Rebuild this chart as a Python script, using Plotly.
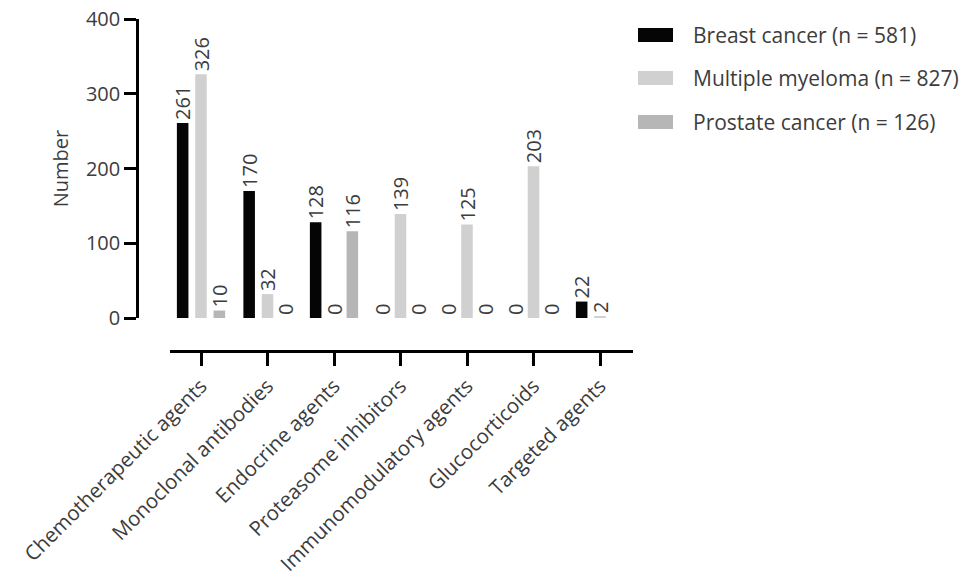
import plotly.graph_objects as go

categories = ["Chemotherapeutic agents", "Monoclonal antibodies", "Endocrine agents",
              "Proteasome inhibitors", "Immunomodulatory agents", "Glucocorticoids", "Targeted agents"]
series_names = ["Breast cancer (n = 581)", "Multiple myeloma (n = 827)", "Prostate cancer (n = 126)"]
breast = [261, 170, 128, 0, 0, 0, 22]
myeloma = [326, 32, 0, 139, 125, 203, 2]
prostate = [10, 0, 116, 0, 0, 0, None]
colors = ["#050505", "#d0d0d0", "#b6b6b6"]
y_ticks = [0, 100, 200, 300, 400]

OFF = 8  # default page body margin
W, H = 970 - 2 * OFF, 584 - 2 * OFF   # fit inside the window without scrollbars
# reference pixel positions (window coordinates)
L, R, T, B = 137, 633, 19, 351   # paper area (y axis line left, x axis line bottom)
X0 = 170                          # x axis line start
Y0 = 318                          # y = 0 position
FONT = "Open Sans"
TXT = "#3c3c3c"

def px_x(x):
    return (x - L) / (R - L)

def px_y(y):
    return (B - y) / (B - T)

fig = go.Figure()
for name, vals, col in zip(series_names, [breast, myeloma, prostate], colors):
    fig.add_trace(go.Bar(
        x=categories, y=vals, name=name, marker_color=col,
        marker_line_width=0,
        text=["" if v is None else str(v) for v in vals], textposition="outside", textangle=-90,
        constraintext="none", cliponaxis=False,
        textfont=dict(family=FONT, size=20, color=TXT),
        showlegend=False))

fig.update_layout(
    width=W, height=H,
    margin=dict(l=L - OFF, r=W - (R - OFF), t=T - OFF, b=H - (B - OFF), pad=0, autoexpand=False),
    paper_bgcolor="white", plot_bgcolor="white",
    barmode="group", bargap=0.173, bargroupgap=0.37,
    font=dict(family=FONT, color=TXT),
    xaxis=dict(domain=[px_x(X0), 1], range=[-(201 - X0) / 66.5, (R - 201) / 66.5],
               anchor="free", position=0,
               showline=True, linecolor="black", linewidth=3,
               ticks="outside", ticklen=13, tickwidth=2.5, tickcolor="black",
               tickangle=-45, tickfont=dict(family=FONT, size=20.5, color=TXT),
               showgrid=False, zeroline=False, automargin=False),
    yaxis=dict(domain=[px_y(Y0), 1], range=[0, 400.01], anchor="free", position=0,
               tickvals=y_ticks, showline=True, linecolor="black", linewidth=2.5,
               ticks="outside", ticklen=12, tickwidth=2.5, tickcolor="black",
               ticklabeloverflow="allow",
               tickfont=dict(family=FONT, size=20, color=TXT),
               showgrid=False, zeroline=False, automargin=False,
               title=dict(text="Number", font=dict(family=FONT, size=20, color=TXT), standoff=10)),
)

# legend
rows_y = [35, 78, 122]
for name, col, yc in zip(series_names, colors, rows_y):
    fig.add_shape(type="rect", xref="paper", yref="paper",
                  x0=px_x(638), x1=px_x(673), y0=px_y(yc + 7), y1=px_y(yc - 7),
                  fillcolor=col, line_width=0)
    fig.add_annotation(xref="paper", yref="paper", x=px_x(691), y=px_y(yc),
                       text=name, showarrow=False, xanchor="left", yanchor="middle",
                       font=dict(family=FONT, size=21, color=TXT))

fig.write_html("out.html")
